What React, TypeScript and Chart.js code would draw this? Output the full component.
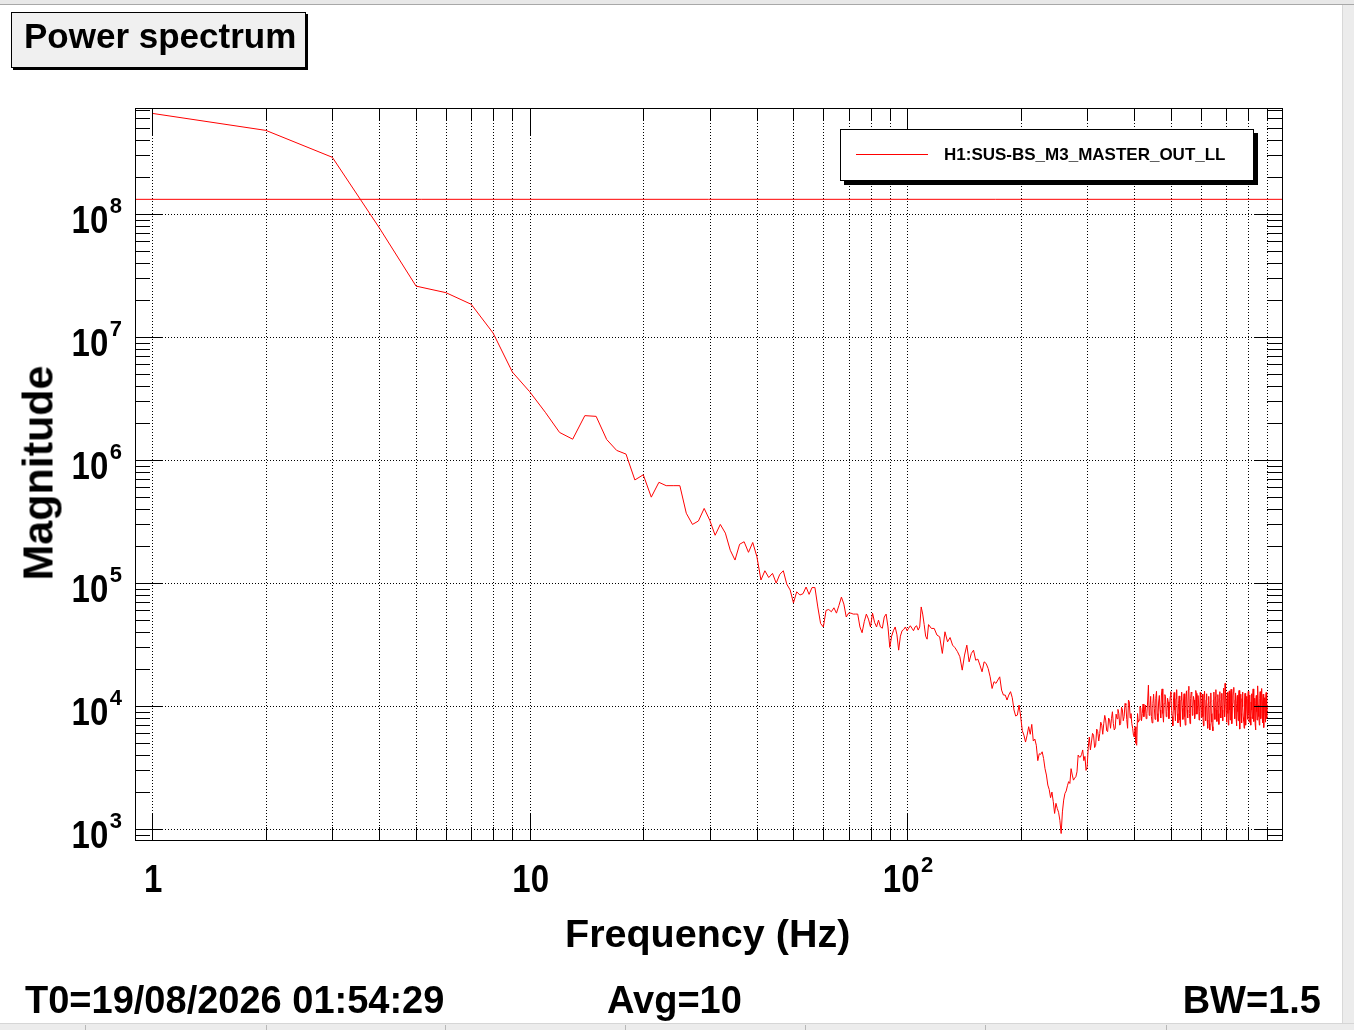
import { useEffect, useRef } from "react";
import { Chart, registerables } from "chart.js";

Chart.register(...registerables);

const FONT = "'Liberation Sans', Arial, Helvetica, sans-serif";

// Spektrum-Bins (Betrag pro Frequenz-Bin)
const LOW_START = 1; // Hz
const LOW_STEP = 1;
const LOW_MAG = [
  6.6e8, 4.8e8, 2.9e8, 7.7e7, 2.6e7, 2.3e7, 1.85e7, 1.08e7, 5.2e6, 3.6e6,
  2.45e6, 1.68e6, 1.48e6, 2.3e6, 2.27e6, 1.47e6, 1.2e6, 1.12e6, 6.9e5, 7.6e5,
  5.0e5, 6.6e5, 6.2e5, 6.2e5, 6.2e5, 3.7e5, 3.0e5, 3.2e5, 4.05e5, 3.25e5,
  2.45e5, 3.0e5, 2.55e5, 1.85e5, 1.54e5, 2.07e5, 2.17e5, 1.78e5, 2.14e5, 1.64e5,
  1.06e5, 1.26e5, 1.11e5, 1.2e5, 1.0e5, 1.18e5, 1.26e5, 9.8e4, 8.8e4, 6.9e4,
  8.5e4, 8.0e4, 8.2e4, 9.3e4, 8.1e4, 9.2e4, 9.2e4, 6.4e4, 4.7e4, 4.4e4,
  6.0e4, 6.1e4, 5.85e4, 6.3e4, 5.7e4, 6.6e4, 7.7e4, 6.75e4, 5.3e4, 5.7e4,
  5.7e4, 5.6e4, 5.6e4, 5.6e4, 4.4e4, 3.95e4, 4.85e4, 5.6e4, 5.1e4, 4.4e4,
  5.7e4, 4.8e4, 4.4e4, 5.0e4, 4.4e4, 4.3e4, 5.3e4, 5.6e4, 4.4e4, 3.0e4,
  3.7e4, 4.1e4, 4.4e4, 3.8e4, 2.85e4, 3.7e4, 4.1e4, 4.2e4, 4.4e4, 4.1e4,
  4.3e4, 4.5e4, 4.3e4, 4.1e4, 4.4e4, 4.5e4, 4.15e4, 4.4e4, 6.4e4, 5.6e4,
  4.6e4, 3.7e4, 3.5e4, 4.6e4,
];

const MID_START = 116;
const MID_STEP = 2;
const MID_MAG = [
  4.28e4, 4.28e4, 3.78e4, 3.66e4, 2.68e4, 4.02e4, 3.33e4, 3.61e4, 3.13e4, 2.98e4,
  2.77e4, 2.52e4, 1.96e4, 2.6e4, 3.13e4, 2.29e4, 2.68e4, 2.85e4, 2.36e4, 2.41e4,
  2.15e4, 1.9e4, 2.29e4, 2.22e4, 2.02e4, 1.73e4, 1.39e4, 1.58e4, 1.53e4, 1.63e4,
  1.73e4, 1.35e4, 1.23e4, 1.23e4, 1.12e4, 1.23e4, 1.31e4, 1.17e4, 9.3e3, 8.3e3,
  8.45e3, 1.02e4, 8.2e3, 6.3e3, 5.8e3, 5.1e3, 5.8e3, 6.8e3, 5.9e3, 7.1e3,
  5.2e3, 5.4e3, 4.8e3, 3.6e3, 4.1e3, 4.05e3, 4.25e3, 3.75e3, 3.1e3, 2.75e3,
  2.28e3, 2.1e3, 1.8e3, 2.0e3, 1.67e3, 1.34e3, 1.62e3, 1.47e3, 1.37e3, 1.18e3,
  920, 1.38e3, 1.72e3, 1.95e3, 2.04e3, 2.25e3, 2.43e3, 2.35e3, 3.1e3, 2.75e3,
  2.5e3, 2.6e3, 2.66e3, 2.92e3, 4.0e3, 3.85e3, 3.85e3, 4.05e3,
];

const HIGH_START = 292;
const HIGH_STEP = 2;
const HIGH_MAG = [
  4.4e3, 3.6e3, 3.9e3, 3.0e3, 3.2e3, 4.6e3, 5.6e3, 4.4e3, 5.1e3, 6.0e3,
  5.8e3, 4.6e3, 4.8e3, 6.5e3, 6.2e3, 5.2e3, 6.0e3, 7.4e3, 7.0e3, 5.9e3,
  7.2e3, 8.4e3, 7.7e3, 6.3e3, 6.2e3, 8.0e3, 7.7e3, 6.6e3, 7.9e3, 9.0e3,
  7.2e3, 6.4e3, 6.6e3, 8.6e3, 7.9e3, 9.4e3, 8.7e3, 7.0e3, 7.2e3, 9.8e3,
  9.3e3, 7.6e3, 8.2e3, 1.05e4, 1.02e4, 7.8e3, 6.6e3, 1.12e4, 1.08e4, 8.0e3,
  8.7e3, 7.2e3, 6.6e3, 5.8e3, 5.6e3, 6.8e3, 5.0e3, 4.8e3, 8.7e3, 7.4e3,
  7.7e3, 9.9e3, 9.6e3, 7.6e3, 8.7e3, 1.04e4, 8.2e3, 9.4e3, 1.02e4, 7.9e3,
  8.7e3, 1.1e4, 1.48e4, 8.4e3, 9.3e3, 1.2e4, 8.2e3, 7.3e3, 1.05e4, 1.25e4,
  9.6e3, 7.8e3, 1.15e4, 1.32e4, 8.7e3, 7.5e3, 1.08e4, 1.22e4, 9.3e3, 8.0e3,
  1.23e4, 1.38e4, 8.7e3, 7.4e3, 1.05e4, 1.24e4, 1.19e4, 8.2e3, 9.0e3, 1.16e4,
  1.08e4, 7.9e3, 9.9e3, 1.2e4, 1.31e4, 9.2e3, 8.2e3, 6.9e3, 1.12e4, 1.29e4,
  9.3e3, 7.6e3, 1.15e4, 1.36e4, 8.7e3, 7.3e3, 1.05e4, 1.21e4, 7.7e3, 6.8e3,
  1.12e4, 1.3e4, 9.6e3, 7.8e3, 1.08e4, 1.26e4, 8.2e3, 7.0e3, 1.19e4, 1.33e4,
  9.3e3, 8.0e3, 1.35e4, 1.45e4, 8.7e3, 7.2e3, 1.15e4, 1.3e4, 1.27e4, 8.4e3,
  9.6e3, 1.2e4, 1.12e4, 7.9e3, 8.7e3, 1.34e4, 1.27e4, 8.6e3, 9.9e3, 1.22e4,
  1.08e4, 7.7e3, 9.0e3, 1.29e4, 1.19e4, 8.1e3, 1.05e4, 1.25e4, 8.2e3, 6.9e3,
  1.15e4, 1.32e4, 9.9e3, 7.6e3, 1.12e4, 1.26e4, 7.7e3, 6.6e3, 1.05e4, 1.2e4,
  7.2e3, 6.4e3, 1.08e4, 1.28e4, 8.7e3, 7.4e3, 6.8e3, 6.3e3, 1.12e4, 1.3e4,
  9.6e3, 7.8e3, 1.19e4, 1.36e4, 9.3e3, 7.5e3, 1.08e4, 1.24e4, 8.7e3, 7.1e3,
  1.15e4, 1.31e4, 9.9e3, 8.0e3, 1.12e4, 1.27e4, 9.3e3, 7.6e3, 1.27e4, 1.4e4,
  1.02e4, 8.2e3, 1.53e4, 1.2e4, 9.6e3, 7.4e3, 1.08e4, 1.29e4, 8.7e3, 7.0e3,
  1.15e4, 1.33e4, 9.3e3, 7.7e3, 1.23e4, 1.37e4, 8.7e3, 7.2e3, 1.05e4, 1.21e4,
  1.31e4, 1.42e4, 9.6e3, 7.9e3, 1.12e4, 1.28e4, 8.2e3, 6.9e3, 1.05e4, 1.22e4,
  9.0e3, 7.6e3, 1.19e4, 1.34e4, 7.7e3, 6.5e3, 1.08e4, 1.25e4, 8.7e3, 7.3e3,
  1.15e4, 1.3e4, 9.9e3, 8.1e3, 7.5e3, 6.6e3, 1.12e4, 1.27e4, 8.2e3, 7.0e3,
  1.05e4, 1.2e4, 9.3e3, 7.8e3, 1.15e4, 1.32e4, 8.7e3, 7.4e3, 1.05e4, 1.23e4,
  8.2e3, 7.0e3, 1.08e4, 1.26e4, 9.3e3, 7.9e3, 1.23e4, 1.38e4, 8.7e3, 7.5e3,
  9.9e3, 1.16e4, 7.2e3, 6.4e3, 1.05e4, 1.22e4, 9.0e3, 7.7e3, 1.35e4, 1.46e4,
  1.02e4, 8.4e3, 8.2e3, 7.0e3, 1.15e4, 1.31e4, 9.3e3, 7.9e3, 1.27e4, 1.39e4,
  8.7e3, 7.3e3, 1.08e4, 1.25e4, 7.7e3, 6.7e3, 9.9e3, 1.17e4, 8.7e3, 7.4e3,
  1.12e4, 1.29e4, 9.3e3, 7.9e3, 1.02e4,
];

// waagrechte Referenzlinie
const REF_LEVEL = 1.32e8;

const X_MIN = 0.9;
const X_MAX = 985;
const Y_MIN = 815;
const Y_MAX = 7.3e8;

const X_DECADES = [1, 10, 100];
const MULTIPLES = [1, 2, 3, 4, 5, 6, 7, 8, 9];
const X_LABELS = [
  { value: 1, base: "1", exp: "" },
  { value: 10, base: "10", exp: "" },
  { value: 100, base: "10", exp: "2" },
];
const Y_EXPONENTS = [3, 4, 5, 6, 7, 8];

const LEGEND_LABEL = "H1:SUS-BS_M3_MASTER_OUT_LL";
const STATUS_SEPARATORS = [85, 266, 445, 625, 805, 985, 1166];

function binned(start: number, step: number, mags: number[]) {
  return mags.map((m, i) => ({ x: start + i * step, y: m }));
}

const SPECTRUM = [
  ...binned(LOW_START, LOW_STEP, LOW_MAG),
  ...binned(MID_START, MID_STEP, MID_MAG),
  ...binned(HIGH_START, HIGH_STEP, HIGH_MAG),
];

const X_TICKS = X_DECADES.flatMap((d) => MULTIPLES.map((m) => m * d)).filter((v) => v >= X_MIN && v <= X_MAX);
const Y_DECADES = Y_EXPONENTS.map((e) => Math.pow(10, e));
const Y_TICKS = [100, ...Y_DECADES]
  .flatMap((d) => MULTIPLES.map((m) => m * d))
  .filter((v) => v >= Y_MIN && v <= Y_MAX);

const LABEL_FONT = `bold 33px ${FONT}`;
const SUP_FONT = `bold 22px ${FONT}`;
const LABEL_STRETCH = 1.19; // ROOT-Labels sind höher als breit

function drawPower(
  ctx: CanvasRenderingContext2D,
  base: string,
  exp: string,
  x: number,
  baseline: number,
  align: "center" | "right"
) {
  ctx.font = LABEL_FONT;
  const w1 = ctx.measureText(base).width;
  let w2 = 0;
  if (exp) {
    ctx.font = SUP_FONT;
    w2 = ctx.measureText(exp).width + 1.5;
  }
  const total = w1 + w2;
  const left = align === "center" ? x - total / 2 : x - total;
  ctx.textAlign = "left";
  ctx.textBaseline = "alphabetic";
  ctx.save();
  ctx.translate(left, baseline);
  ctx.scale(1, LABEL_STRETCH);
  ctx.font = LABEL_FONT;
  ctx.fillText(base, 0, 0);
  ctx.restore();
  if (exp) {
    ctx.font = SUP_FONT;
    ctx.fillText(exp, left + w1 + 1.5, baseline - 20);
  }
}

// ROOT-artiger Rahmen: Punktgitter, Ticks innen auf allen Seiten, Potenz-Labels
const rootFrame = {
  id: "rootFrame",
  beforeDatasetsDraw(chart: Chart) {
    const { ctx, chartArea: a } = chart;
    const xs = chart.scales.x;
    const ys = chart.scales.y;
    ctx.save();
    ctx.strokeStyle = "#000";
    ctx.lineWidth = 1;
    ctx.setLineDash([1, 2]);
    ctx.beginPath();
    for (const v of X_TICKS) {
      const px = Math.round(xs.getPixelForValue(v)) + 0.5;
      ctx.moveTo(px, a.top);
      ctx.lineTo(px, a.bottom);
    }
    for (const v of Y_DECADES) {
      const py = Math.round(ys.getPixelForValue(v)) + 0.5;
      ctx.moveTo(a.left, py);
      ctx.lineTo(a.right, py);
    }
    ctx.stroke();
    ctx.restore();
  },
  afterDatasetsDraw(chart: Chart) {
    const { ctx, chartArea: a } = chart;
    const xs = chart.scales.x;
    const ys = chart.scales.y;
    ctx.save();
    ctx.strokeStyle = "#000";
    ctx.lineWidth = 1;
    ctx.setLineDash([]);
    ctx.beginPath();
    for (const v of X_TICKS) {
      const px = Math.round(xs.getPixelForValue(v)) + 0.5;
      const len = X_DECADES.includes(v) ? 27 : 13;
      ctx.moveTo(px, a.bottom);
      ctx.lineTo(px, a.bottom - len);
      ctx.moveTo(px, a.top);
      ctx.lineTo(px, a.top + len);
    }
    for (const v of Y_TICKS) {
      const py = Math.round(ys.getPixelForValue(v)) + 0.5;
      const len = Y_DECADES.includes(v) ? 28 : 15;
      ctx.moveTo(a.left, py);
      ctx.lineTo(a.left + len, py);
      ctx.moveTo(a.right, py);
      ctx.lineTo(a.right - len, py);
    }
    ctx.stroke();
    ctx.strokeRect(Math.round(a.left) + 0.5, Math.round(a.top) + 0.5, Math.round(a.right - a.left), Math.round(a.bottom - a.top));

    ctx.fillStyle = "#000";
    for (const l of X_LABELS) {
      drawPower(ctx, l.base, l.exp, xs.getPixelForValue(l.value) + 1, a.bottom + 52, "center");
    }
    for (const e of Y_EXPONENTS) {
      const py = ys.getPixelForValue(Math.pow(10, e));
      drawPower(ctx, "10", String(e), a.left - 13, py + 19, "right");
    }
    ctx.restore();
  },
};

export default function App() {
  const canvasRef = useRef<HTMLCanvasElement>(null);

  useEffect(() => {
    if (!canvasRef.current) return;
    const chart = new Chart(canvasRef.current, {
      type: "line",
      data: {
        datasets: [
          {
            label: LEGEND_LABEL,
            data: SPECTRUM,
            borderColor: "#ff0000",
            borderWidth: 1,
            pointRadius: 0,
            tension: 0,
            fill: false,
          },
          {
            label: "ref",
            data: [
              { x: X_MIN, y: REF_LEVEL },
              { x: X_MAX, y: REF_LEVEL },
            ],
            borderColor: "#ff0000",
            borderWidth: 1,
            pointRadius: 0,
            fill: false,
          },
        ],
      },
      options: {
        responsive: false,
        animation: false,
        events: [],
        layout: { padding: { left: 135, right: 72, top: 108, bottom: 190 } },
        plugins: { legend: { display: false }, tooltip: { enabled: false } },
        scales: {
          x: { type: "logarithmic", min: X_MIN, max: X_MAX, display: false },
          y: { type: "logarithmic", min: Y_MIN, max: Y_MAX, display: false },
        },
      },
      plugins: [rootFrame],
    });
    return () => chart.destroy();
  }, []);

  const text = (size: number): React.CSSProperties => ({
    position: "absolute",
    fontSize: size,
    lineHeight: 1,
    whiteSpace: "nowrap",
  });

  return (
    <div
      style={{
        position: "absolute",
        left: 0,
        top: 0,
        width: 1354,
        height: 1030,
        overflow: "hidden",
        background: "#fff",
        fontFamily: FONT,
        fontWeight: "bold",
        color: "#000",
      }}
    >
      <canvas ref={canvasRef} width={1354} height={1030} style={{ position: "absolute", left: 0, top: 0 }} />

      {/* Fensterrahmen */}
      <div style={{ position: "absolute", left: 0, top: 0, width: 1354, height: 4, background: "#e8e8e8", borderBottom: "1px solid #a8a8a8" }} />
      <div style={{ position: "absolute", left: 1342, top: 5, width: 12, height: 1025, background: "#ececec", borderLeft: "1px solid #d8d8d8" }} />
      <div style={{ position: "absolute", left: 0, top: 1023, width: 1354, height: 7, background: "#ececec", borderTop: "1px solid #d6d6d6" }}>
        {STATUS_SEPARATORS.map((x) => (
          <div key={x} style={{ position: "absolute", left: x, top: 1, width: 1, height: 6, background: "#b8b8b8" }} />
        ))}
      </div>

      {/* Titel */}
      <div
        style={{
          position: "absolute",
          left: 11,
          top: 12,
          width: 295,
          height: 56,
          boxSizing: "border-box",
          border: "1px solid #000",
          background: "#f0f0f0",
          boxShadow: "2px 2px 0 #000",
        }}
      />
      <div style={{ ...text(35), left: 24, top: 48 - 0.8465 * 35 }}>Power spectrum</div>

      {/* Legende */}
      <div
        style={{
          position: "absolute",
          left: 840,
          top: 129,
          width: 414,
          height: 52,
          boxSizing: "border-box",
          border: "1px solid #000",
          background: "#fff",
          boxShadow: "4px 4px 0 #000",
        }}
      />
      <div style={{ position: "absolute", left: 856, top: 154, width: 72, height: 1, background: "#ff0000" }} />
      <div style={{ ...text(17), left: 944, top: 160 - 0.8465 * 17 }}>{LEGEND_LABEL}</div>

      {/* Achsentitel */}
      <div style={{ ...text(39.5), left: 565, top: 947 - 0.8465 * 39.5 }}>Frequency (Hz)</div>
      <div
        style={{
          ...text(43),
          left: 38,
          top: 473,
          transform: "translate(-50%, -50%) rotate(-90deg)",
        }}
      >
        Magnitude
      </div>

      {/* Fußzeile */}
      <div style={{ ...text(38), left: 25, top: 1013 - 0.8465 * 38 }}>T0=19/08/2026 01:54:29</div>
      <div style={{ ...text(38), left: 607, top: 1013 - 0.8465 * 38 }}>Avg=10</div>
      <div style={{ ...text(38), right: 33, top: 1013 - 0.8465 * 38 }}>BW=1.5</div>
    </div>
  );
}
